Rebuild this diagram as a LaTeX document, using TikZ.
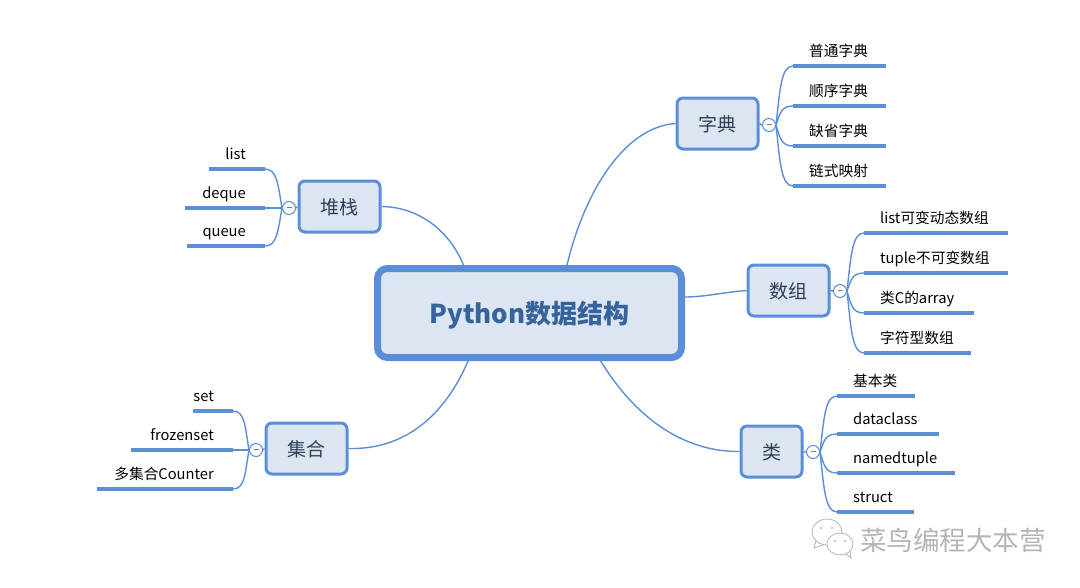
\documentclass[tikz,border=0pt]{standalone}
\usepackage{fontspec}
\setmainfont{Noto Sans CJK SC}
\usetikzlibrary{calc}
\definecolor{mapblue}{HTML}{5A8FD8}
\definecolor{mapfill}{HTML}{DCE5F2}
\definecolor{maptext}{HTML}{2E4057}
\definecolor{roottext}{HTML}{35639C}
\definecolor{markgray}{HTML}{B4B4B4}
\tikzset{
  topic/.style={draw=mapblue,fill=mapfill,line width=3pt,rounded corners=6pt,minimum width=81pt,minimum height=51pt,inner sep=0pt,text=maptext,text height=15pt,text depth=0pt,font=\fontsize{19}{21}\selectfont},
  rootbox/.style={draw=mapblue,fill=mapfill,line width=7pt,rounded corners=10pt,minimum width=304pt,minimum height=89pt,inner sep=0pt,text=roottext,text height=20pt,text depth=0pt,font=\fontsize{26}{28}\bfseries\selectfont},
  toggle/.style={circle,draw=mapblue,fill=white,line width=1pt,minimum size=13pt,inner sep=0pt},
  bar/.style={fill=mapblue,minimum height=4pt,inner sep=0pt},
  leaf/.style={inner sep=0pt,text=black,font=\fontsize{14.7}{16}\selectfont},
  link/.style={draw=mapblue,line width=1.4pt},
}
\newcommand{\dashmark}{\textcolor{gray}{\rule[1.5pt]{5pt}{1pt}}}
\begin{document}
\begin{tikzpicture}[x=1pt,y=-1pt]
  \useasboundingbox (0,0) rectangle (1080,587);
  \node[rootbox] (root) at (529.5,313) {Python数据结构};
  \node[topic] (dict) at (717.5,123.5) {字典};
  \node[topic] (stack) at (339.5,206.5) {堆栈};
  \node[topic] (array) at (788.5,290.5) {数组};
  \node[topic,minimum width=61pt] (class) at (771.5,451.5) {类};
  \node[topic] (set) at (306.5,448.5) {集合};
  \node[toggle] (dicttog) at (769,125) {\dashmark};
  \node[toggle] (stacktog) at (289,208) {\dashmark};
  \node[toggle] (arraytog) at (840,291) {\dashmark};
  \node[toggle] (classtog) at (813,452) {\dashmark};
  \node[toggle] (settog) at (256,450) {\dashmark};
  % main branches
  \draw[link] (root.52) .. controls (585,190) and (625,127) .. (dict.west);
  \draw[link] (root.144) .. controls (450,232) and (420,207) .. (stack.east);
  \draw[link] (root.east|-0,297) .. controls (705,297) and (725,292) .. (array.west);
  \draw[link] (root.-34) .. controls (640,425) and (690,452) .. (class.west);
  \draw[link] (root.-142) .. controls (445,415) and (405,450) .. (set.east);
  \draw[link] (dict.east) -- (dicttog.west);
  \draw[link] (stack.west) -- (stacktog.east);
  \draw[link] (array.east) -- (arraytog.west);
  \draw[link] (class.east) -- (classtog.west);
  \draw[link] (set.west) -- (settog.east);
  % leaves on the right
  \foreach \nm/\tog/\txt/\tx/\by/\bx/\bw in {
      dicta/dicttog/普通字典/809/66/793/93, dictb/dicttog/顺序字典/809/106/793/93,
      dictc/dicttog/缺省字典/809/146/793/93, dictd/dicttog/链式映射/809/186/793/93,
      arra/arraytog/list可变动态数组/880/233/864/144, arrb/arraytog/tuple不可变数组/880/273/864/144,
      arrc/arraytog/类C的array/880/313/864/110, arrd/arraytog/字符型数组/880/353/864/107,
      clsa/classtog/基本类/853/396/837/78, clsb/classtog/dataclass/853/434/837/102,
      clsc/classtog/namedtuple/853/473/837/118, clsd/classtog/struct/853/512/837/77}{
    \node[bar,anchor=west,minimum width=\bw pt] (\nm) at (\bx,\by) {};
    \node[leaf,anchor=base west] (\nm txt) at (\tx,\by-10) {\txt};
    \draw[link] (\tog.east) .. controls ($(\tog.east)!.6!(\tog.east|-\nm.west)+(4,0)$) and +(-12,0) .. (\nm.west);
  }
  % leaves on the left
  \foreach \nm/\tog/\txt/\tx/\by/\bx/\bw in {
      stka/stacktog/list/246/169/265/56, stkb/stacktog/deque/246/208/265/80,
      stkc/stacktog/queue/246/246/265/78,
      seta/settog/set/214/411/233/40, setb/settog/frozenset/214/450/233/102,
      setc/settog/多集合Counter/214/489/233/136}{
    \node[bar,anchor=east,minimum width=\bw pt] (\nm) at (\bx,\by) {};
    \node[leaf,anchor=base east] (\nm txt) at (\tx,\by-10) {\txt};
    \draw[link] (\tog.west) .. controls ($(\tog.west)!.6!(\tog.west|-\nm.east)+(-4,0)$) and +(12,0) .. (\nm.east);
  }
  % watermark
  \node[inner sep=0pt,anchor=west,text=markgray,font=\fontsize{26.5}{28}\selectfont] (mark) at (860,540) {菜鸟编程大本营};
  \draw[markgray,line width=.8pt,fill=white] (827,532) ellipse (15 and 13);
  \draw[markgray,line width=.8pt] (816,541) -- (814,548) -- (823,545);
  \draw[markgray,line width=.8pt,fill=white] (840,544) ellipse (13 and 11);
  \draw[markgray,line width=.8pt] (846,554) -- (851,558) -- (850,551);
  \fill[markgray] (821,528) circle (1.2) (832,528) circle (1.2) (835,541) circle (1.2) (845,541) circle (1.2);
\end{tikzpicture}
\end{document}
